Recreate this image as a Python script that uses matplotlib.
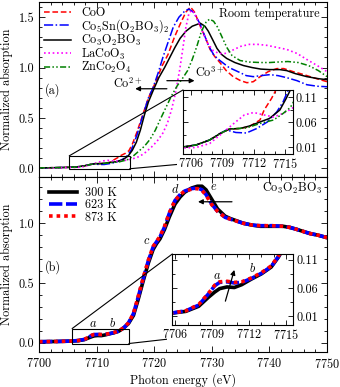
import matplotlib
matplotlib.use("Agg")
import matplotlib.pyplot as plt
from matplotlib.ticker import MultipleLocator, FixedLocator
from matplotlib.patches import Rectangle, ConnectionPatch

# ---------------- data ----------------
# Top panel: room temperature, reference compounds
E_coo = [7700, 7703, 7705.2, 7706.5, 7707.8, 7708.8, 7709.7, 7710.7, 7711.6, 7712.6, 7713.0, 7713.7,
         7714.2, 7715.0, 7715.6, 7716.2, 7717.0, 7718.0, 7719.0, 7720.2, 7721.4, 7722.4, 7723.5, 7724.5,
         7725.5, 7726.3, 7727.0, 7728.0, 7729.0, 7729.7, 7730.5, 7731.4, 7732.5, 7733.7, 7735.0, 7736.1,
         7737.2, 7738.4, 7739.8, 7741.3, 7742.5, 7744.1, 7746.0, 7747.6, 7750]
mu_coo = [0.005, 0.008, 0.011, 0.015, 0.025, 0.038, 0.047, 0.048, 0.052, 0.065, 0.085, 0.108,
          0.128, 0.150, 0.175, 0.24, 0.36, 0.53, 0.70, 0.85, 1.02, 1.13, 1.30, 1.43,
          1.55, 1.60, 1.55, 1.41, 1.28, 1.18, 1.11, 1.05, 0.97, 0.91, 0.87, 0.85,
          0.86, 0.91, 0.96, 0.99, 0.99, 0.96, 0.93, 0.90, 0.86]

E_cosn = [7700, 7703, 7705.2, 7706.5, 7707.8, 7708.8, 7709.4, 7710.3, 7711.3, 7712.3, 7713.3, 7714.2,
          7714.8, 7715.3, 7716.0, 7717.0, 7718.0, 7719.0, 7719.8, 7720.7, 7721.5, 7722.4, 7723.3, 7724.3,
          7725.3, 7726.0, 7726.8, 7728.0, 7729.4, 7730.4, 7731.4, 7733.0, 7734.9, 7736.0, 7737.2, 7738.5,
          7740.1, 7741.5, 7743.0, 7744.8, 7746.5, 7748.3, 7750]
mu_cosn = [0.005, 0.008, 0.011, 0.015, 0.025, 0.038, 0.045, 0.040, 0.039, 0.048, 0.061, 0.081,
           0.101, 0.125, 0.18, 0.33, 0.52, 0.70, 0.80, 0.95, 1.10, 1.25, 1.40, 1.50,
           1.56, 1.58, 1.55, 1.43, 1.22, 1.12, 1.07, 1.00, 0.95, 0.92, 0.91, 0.92,
           0.93, 0.92, 0.90, 0.87, 0.83, 0.815, 0.81]

E_co3 = [7700, 7703, 7705.2, 7706.5, 7707.8, 7708.8, 7709.7, 7710.7, 7711.6, 7712.6, 7713.5, 7714.5,
         7715.1, 7715.5, 7716.2, 7716.9, 7717.6, 7718.3, 7719.0, 7719.8, 7720.8, 7721.8, 7722.7, 7723.6,
         7724.5, 7725.5, 7726.6, 7728.0, 7728.8, 7729.4, 7730.2, 7730.9, 7731.7, 7732.6, 7734.0, 7735.5,
         7737.0, 7738.5, 7740.0, 7741.8, 7743.0, 7744.5, 7746.5, 7748.5, 7750]
mu_co3 = [0.005, 0.008, 0.011, 0.015, 0.025, 0.038, 0.047, 0.048, 0.053, 0.061, 0.068, 0.085,
          0.108, 0.125, 0.18, 0.26, 0.38, 0.53, 0.66, 0.77, 0.90, 1.00, 1.10, 1.20,
          1.29, 1.36, 1.41, 1.44, 1.41, 1.36, 1.27, 1.19, 1.13, 1.09, 1.05, 1.02,
          1.00, 0.985, 0.98, 0.98, 0.97, 0.94, 0.91, 0.89, 0.88]

E_laco = [7700, 7703, 7705.2, 7706.5, 7707.8, 7708.8, 7710.1, 7711.1, 7712.0, 7713.0, 7713.9, 7714.8,
          7715.5, 7716.5, 7717.5, 7718.5, 7719.5, 7720.5, 7721.5, 7722.3, 7723.0, 7723.7, 7724.4, 7725.0,
          7725.5, 7726.0, 7726.5, 7727.0, 7727.7, 7728.5, 7729.3, 7730.2, 7731.2, 7732.3, 7733.5, 7735.0,
          7736.5, 7738.0, 7739.6, 7741.3, 7743.0, 7744.8, 7746.5, 7748.3, 7750]
mu_laco = [0.004, 0.006, 0.009, 0.010, 0.018, 0.035, 0.058, 0.075, 0.080, 0.075, 0.071, 0.078,
           0.086, 0.10, 0.12, 0.16, 0.21, 0.27, 0.35, 0.45, 0.58, 0.75, 0.97, 1.20,
           1.40, 1.53, 1.57, 1.54, 1.45, 1.34, 1.24, 1.17, 1.14, 1.14, 1.17, 1.21,
           1.23, 1.23, 1.22, 1.20, 1.18, 1.14, 1.08, 1.02, 0.96]

E_znco = [7700, 7703, 7705.2, 7706.5, 7707.8, 7708.8, 7709.7, 7711.3, 7712.6, 7713.9, 7714.8, 7715.5,
          7716.3, 7717.3, 7718.3, 7719.3, 7720.2, 7721.0, 7722.0, 7723.0, 7724.0, 7725.0, 7725.8, 7726.6,
          7727.4, 7728.2, 7729.0, 7729.6, 7730.3, 7731.0, 7731.8, 7732.6, 7733.5, 7734.9, 7736.5, 7738.4,
          7740.0, 7741.5, 7743.2, 7745.0, 7746.8, 7748.5, 7750]
mu_znco = [0.005, 0.008, 0.011, 0.015, 0.025, 0.038, 0.047, 0.049, 0.058, 0.065, 0.078, 0.09,
           0.12, 0.17, 0.22, 0.29, 0.38, 0.48, 0.60, 0.72, 0.82, 0.90, 0.97, 1.08,
           1.21, 1.36, 1.45, 1.48, 1.46, 1.40, 1.30, 1.20, 1.12, 1.07, 1.055, 1.05,
           1.05, 1.055, 1.06, 1.05, 1.02, 0.97, 0.91]

# Bottom panel: Co3O2BO3 at three temperatures
E_t = [7700, 7703, 7705.4, 7706.85, 7707.9, 7708.7, 7709.2, 7709.6, 7710.2, 7710.8, 7711.4, 7712.2,
       7713.0, 7713.8, 7714.4, 7714.8, 7715.5, 7716.4, 7717.2, 7718.1, 7719.0, 7719.8, 7720.4, 7721.0,
       7721.8, 7722.6, 7723.6, 7724.5, 7725.3, 7726.5, 7727.5, 7728.3, 7729.0, 7730.0, 7731.0, 7732.3,
       7733.2, 7735.5, 7737.0, 7738.4, 7740.4, 7742.4, 7743.6, 7744.7, 7746.0, 7747.0, 7748.5, 7750]
mu_300 = [0.010, 0.012, 0.015, 0.019, 0.028, 0.044, 0.053, 0.059, 0.062, 0.061, 0.066, 0.076,
          0.085, 0.097, 0.115, 0.130, 0.16, 0.23, 0.36, 0.52, 0.67, 0.78, 0.83, 0.87,
          0.95, 1.05, 1.16, 1.22, 1.26, 1.295, 1.31, 1.31, 1.28, 1.20, 1.12, 1.06,
          1.04, 1.00, 0.985, 0.975, 0.975, 0.975, 0.965, 0.95, 0.93, 0.915, 0.90, 0.88]
mu_623 = [0.010, 0.012, 0.015, 0.020, 0.030, 0.050, 0.064, 0.070, 0.071, 0.069, 0.070, 0.077,
          0.086, 0.098, 0.116, 0.130, 0.165, 0.245, 0.38, 0.54, 0.69, 0.80, 0.845, 0.885,
          0.97, 1.08, 1.19, 1.24, 1.27, 1.29, 1.295, 1.28, 1.24, 1.16, 1.10, 1.05,
          1.035, 1.00, 0.985, 0.98, 0.98, 0.975, 0.965, 0.95, 0.93, 0.915, 0.90, 0.88]
mu_873 = [0.010, 0.012, 0.015, 0.020, 0.031, 0.051, 0.065, 0.071, 0.072, 0.070, 0.071, 0.078,
          0.087, 0.099, 0.117, 0.131, 0.166, 0.247, 0.385, 0.545, 0.695, 0.805, 0.85, 0.89,
          0.975, 1.085, 1.19, 1.24, 1.27, 1.285, 1.29, 1.275, 1.235, 1.155, 1.10, 1.05,
          1.035, 1.00, 0.985, 0.98, 0.98, 0.975, 0.965, 0.95, 0.93, 0.915, 0.90, 0.88]

labels_top = ["CoO", r"Co$_5$Sn(O$_2$BO$_3$)$_2$", r"Co$_3$O$_2$BO$_3$", r"LaCoO$_3$", r"ZnCo$_2$O$_4$"]
labels_bot = ["300 K", "623 K", "873 K"]
xticks_main = [7700, 7710, 7720, 7730, 7740, 7750]
xticks_inset = [7706, 7709, 7712, 7715]
yticks_inset = [0.01, 0.06, 0.11]

# ---------------- style ----------------
FS = 8.8
plt.rcParams.update({
    "font.family": "cmr10",
    "mathtext.fontset": "cm",
    "axes.formatter.use_mathtext": True,
    "axes.unicode_minus": False,
    "font.size": FS,
    "xtick.direction": "in", "ytick.direction": "in",
    "xtick.top": True, "ytick.right": True,
    "xtick.major.size": 4, "ytick.major.size": 4,
    "xtick.minor.size": 2, "ytick.minor.size": 2,
    "xtick.major.width": 0.6, "ytick.major.width": 0.6,
    "xtick.minor.width": 0.6, "ytick.minor.width": 0.6,
    "axes.linewidth": 0.8,
    "xtick.labelsize": FS, "ytick.labelsize": FS,
})

RED, BLUE, BLACK, MAG, GREEN = "#ff0000", "#0000ff", "#000000", "#ff00ff", "#008000"

fig = plt.figure(figsize=(3.4, 3.87), dpi=100)
ax1 = fig.add_axes([0.1147, 0.5426, 0.8471, 0.4522])
ax2 = fig.add_axes([0.1147, 0.0904, 0.8471, 0.4522], sharex=ax1)

top_series = [
    (E_coo, mu_coo, dict(color=RED, ls=(0, (3.7, 1.8)), lw=1.1)),
    (E_cosn, mu_cosn, dict(color=BLUE, ls=(0, (6.0, 1.6, 1.0, 1.6)), lw=1.1)),
    (E_co3, mu_co3, dict(color=BLACK, ls="-", lw=1.1)),
    (E_laco, mu_laco, dict(color=MAG, ls=(0, (1, 1.6)), lw=1.2)),
    (E_znco, mu_znco, dict(color=GREEN, ls=(0, (4, 1.5, 1, 1.5, 1, 1.5)), lw=1.1)),
]
bot_series = [
    (E_t, mu_300, dict(color=BLACK, ls="-", lw=2.6)),
    (E_t, mu_623, dict(color=BLUE, ls=(0, (3.7, 1.0)), lw=2.6)),
    (E_t, mu_873, dict(color=RED, ls=(0, (1, 1.1)), lw=2.6)),
]

for (E, mu, st), lab in zip(top_series, labels_top):
    ax1.plot(E, mu, label=lab, **st)
for (E, mu, st), lab in zip(bot_series, labels_bot):
    ax2.plot(E, mu, label=lab, **st)

ax1.set_xlim(7700, 7750)
ax1.set_ylim(-0.085, 1.65)
ax2.set_ylim(-0.076, 1.387)
for ax in (ax1, ax2):
    ax.xaxis.set_major_locator(FixedLocator(xticks_main))
    ax.xaxis.set_minor_locator(MultipleLocator(2))
    ax.yaxis.set_major_locator(MultipleLocator(0.5))
    ax.yaxis.set_minor_locator(MultipleLocator(0.1))
    ax.yaxis.set_major_formatter(matplotlib.ticker.FormatStrFormatter("%.1f"))
    ax.set_ylabel("Normalized absorption", labelpad=4)
ax1.tick_params(labelbottom=False)
ax2.set_xlabel("Photon energy (eV)", labelpad=2)

ax1.legend(loc="upper left", frameon=False, handlelength=2.2, handletextpad=0.85,
           labelspacing=-0.14, borderaxespad=0.1, borderpad=0.3)
ax2.legend(loc="upper left", frameon=False, handlelength=2.35, handletextpad=0.65,
           labelspacing=0.02, borderaxespad=0.1, borderpad=0.7)

ax1.text(0.975, 0.93, "Room temperature", transform=ax1.transAxes, ha="right", va="center")
ax2.text(0.985, 0.937, r"Co$_3$O$_2$BO$_3$", transform=ax2.transAxes, ha="right", va="center")
ax1.text(7701.0, 0.78, "(a)", ha="left", va="center")
ax2.text(7701.0, 0.63, "(b)", ha="left", va="center")

arrow = dict(arrowstyle="-|>", color="k", lw=0.9, mutation_scale=7, shrinkA=0, shrinkB=0)
ax1.annotate("", xy=(7716.7, 0.79), xytext=(7722.2, 0.79), arrowprops=arrow)
ax1.annotate("", xy=(7727.0, 0.87), xytext=(7722.2, 0.87), arrowprops=arrow)
ax1.text(7715.4, 0.84, r"Co$^{2+}$", ha="center", va="center")
ax1.text(7729.6, 0.95, r"Co$^{3+}$", ha="center", va="center")

ax2.annotate("", xy=(7727.6, 1.18), xytext=(7733.5, 1.18), arrowprops=arrow)
ax2.text(7709.4, 0.16, "$a$", ha="center", va="center")
ax2.text(7712.8, 0.16, "$b$", ha="center", va="center")
ax2.text(7718.6, 0.85, "$c$", ha="center", va="center")
ax2.text(7723.6, 1.28, "$d$", ha="center", va="center")
ax2.text(7730.4, 1.30, "$e$", ha="center", va="center")

# ---------------- insets ----------------
def make_inset(ax, rect, xlim, ylim, series, gap_left):
    ins = fig.add_axes(rect)
    for E, mu, st in series:
        ins.plot(E, mu, **st)
    ins.set_xlim(*xlim)
    ins.set_ylim(*ylim)
    ins.xaxis.set_major_locator(FixedLocator(xticks_inset))
    ins.xaxis.set_minor_locator(MultipleLocator(1))
    ins.yaxis.set_major_locator(FixedLocator(yticks_inset))
    ins.yaxis.set_minor_locator(FixedLocator([0.035, 0.085]))
    ins.yaxis.set_major_formatter(matplotlib.ticker.FormatStrFormatter("%.2f"))
    ins.tick_params(which="both", top=True, right=True, left=True, bottom=True,
                    labelleft=False, labelright=True, pad=2)
    ins.tick_params(which="major", length=3.5)
    ins.tick_params(which="minor", length=2)
    # zoom rectangle in the parent axes
    ax.add_patch(Rectangle((xlim[0], ylim[0]), xlim[1] - xlim[0], ylim[1] - ylim[0],
                           fill=False, ec="k", lw=0.8, zorder=3))
    c1 = ConnectionPatch(xyA=(xlim[0], ylim[1]), coordsA=ax.transData,
                         xyB=(0, 1), coordsB=ins.transAxes, color="k", lw=0.8, zorder=3)
    c2 = ConnectionPatch(xyA=(xlim[1], ylim[0]), coordsA=ax.transData,
                         xyB=(1, 0), coordsB=ins.transAxes, color="k", lw=0.8, zorder=3)
    ax.add_artist(c1)
    ax.add_artist(c2)
    ax.add_patch(Rectangle((gap_left, -0.3), 1 - gap_left + 0.01, 0.3, transform=ins.transAxes,
                           fc="white", ec="none", zorder=3.5, clip_on=False))
    return ins

ins1 = make_inset(ax1, [0.5382, 0.6021, 0.3235, 0.1654], (7705.25, 7715.75), (-0.003, 0.125),
                  top_series, -0.05)
ins2 = make_inset(ax2, [0.5068, 0.1602, 0.3559, 0.1835], (7705.75, 7715.6), (-0.005, 0.12),
                  bot_series, -0.045)

ins2.annotate("", xy=(7710.8, 0.092), xytext=(7710.07, 0.037), arrowprops=arrow)
ins2.text(7709.4, 0.081, "$a$", ha="center", va="center")
ins2.text(7712.3, 0.094, "$b$", ha="center", va="center")

fig.savefig("out.png", dpi=100)
